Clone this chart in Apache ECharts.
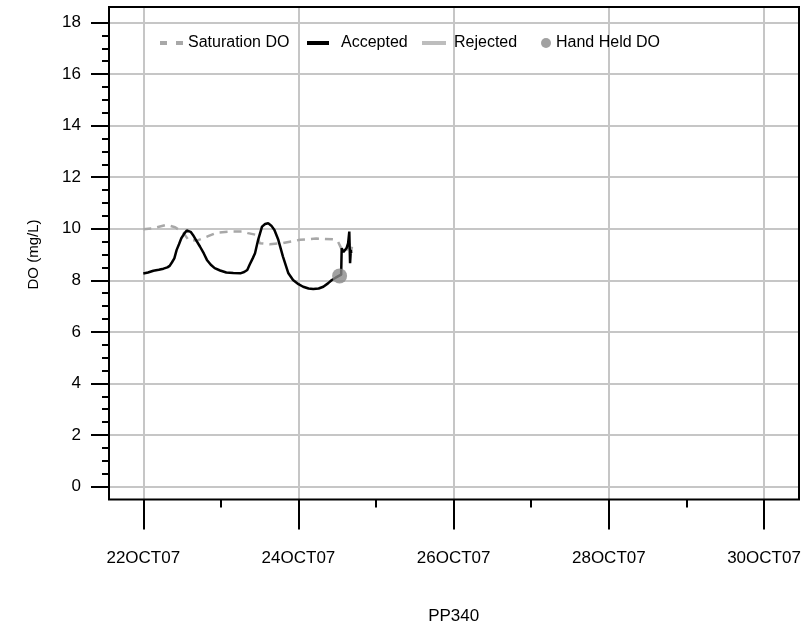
<!DOCTYPE html>
<html>
<head>
<meta charset="utf-8">
<script src="https://cdn.jsdelivr.net/npm/echarts@6/dist/echarts.min.js"></script>
<style>html,body{margin:0;padding:0;background:#fff}#c{width:806px;height:627px}</style>
</head>
<body>
<div id="c"></div>
<script>
// Day of October 2007 (fractional days)
const satDays = [22.00, 22.13, 22.30, 22.41, 22.52, 22.58, 22.69, 22.82, 22.95, 23.12, 23.29, 23.35, 23.46, 23.50, 23.63, 23.80, 24.02, 24.23, 24.45, 24.51, 24.56, 24.60, 24.64, 24.66, 24.675, 24.69];
const satVals = [9.98, 10.02, 10.15, 10.06, 9.83, 9.57, 9.54, 9.69, 9.85, 9.89, 9.89, 9.83, 9.76, 9.44, 9.40, 9.44, 9.57, 9.62, 9.59, 9.50, 9.18, 9.11, 9.25, 9.44, 9.11, 9.30];

const accDays = [22.00, 22.06, 22.13, 22.20, 22.26, 22.31, 22.34, 22.37, 22.40, 22.43, 22.46, 22.49, 22.53, 22.56, 22.58, 22.61, 22.64, 22.68, 22.73, 22.78, 22.82, 22.87, 22.92, 22.99, 23.07, 23.16, 23.25, 23.30, 23.34, 23.37, 23.41, 23.44, 23.48, 23.53, 23.57, 23.61, 23.65, 23.69, 23.74, 23.80, 23.87, 23.93, 24.00, 24.06, 24.13, 24.19, 24.26, 24.32, 24.38, 24.43, 24.48, 24.52, 24.55, 24.557, 24.58, 24.60, 24.62, 24.64, 24.655, 24.665, 24.675, 24.68];
const accVals = [8.26, 8.30, 8.37, 8.41, 8.45, 8.50, 8.56, 8.70, 8.85, 9.18, 9.40, 9.63, 9.82, 9.93, 9.95, 9.88, 9.76, 9.56, 9.31, 9.04, 8.79, 8.60, 8.47, 8.38, 8.30, 8.28, 8.27, 8.32, 8.40, 8.60, 8.85, 9.05, 9.57, 10.08, 10.18, 10.21, 10.12, 9.95, 9.57, 8.92, 8.27, 8.01, 7.85, 7.75, 7.68, 7.66, 7.68, 7.75, 7.88, 8.01, 8.10, 8.17, 8.22, 9.24, 9.10, 9.05, 9.25, 9.44, 9.89, 8.66, 9.18, 9.05];

const rejDays = [];
const rejVals = [];

const handDays = [24.53];
const handVals = [8.17];

const xTickDays = [22, 30, 2];   // first, last, step of labelled ticks
const yTickVals = [0, 18, 2];
const xLabelSuffix = 'OCT07';

const zip = (a, b) => a.map((v, i) => [v, b[i]]);

const FONT = '"Liberation Sans", Arial, sans-serif';
const GRIDC = '#c6c6c6';

// pixel geometry
const frame = { left: 109, right: 7, top: 7, bottom: 127.5 };
const xGrid = { left: 143.3, right: 42, top: 7, bottom: 127.5 };
const yGrid = { left: 109, right: 7, top: 22.5, bottom: 140.5 };
const pxPerUnit = (486.5 - 22.5) / 18;
const yMinHidden = -(499.5 - 486.5) / pxPerUnit;
const yMaxHidden = 18 + (22.5 - 7) / pxPerUnit;

const chart = echarts.init(document.getElementById('c'), null, { renderer: 'canvas' });

const TS = { fontFamily: FONT, fontSize: 16, color: '#000' };
const legendBase = { orient: 'horizontal', selectedMode: false, padding: 0 };
const gridBase = { outerBoundsMode: 'none', containLabel: false };

chart.setOption({
  animation: false,
  backgroundColor: '#fff',
  grid: [
    Object.assign({ show: true, borderColor: '#000', borderWidth: 2, backgroundColor: 'transparent', z: 5 }, gridBase, frame),
    Object.assign({ show: false }, gridBase, xGrid),
    Object.assign({ show: false }, gridBase, yGrid)
  ],
  xAxis: [
    { gridIndex: 0, type: 'value', show: false, min: 0, max: 1 },
    {
      gridIndex: 1, type: 'value', min: xTickDays[0], max: xTickDays[1], interval: xTickDays[2],
      axisLine: { show: false, onZero: false },
      axisTick: { show: true, inside: false, length: 30, lineStyle: { color: '#000', width: 2 } },
      minorTick: { show: true, splitNumber: 2, length: 8, lineStyle: { color: '#000', width: 2 } },
      splitLine: { show: true, lineStyle: { color: GRIDC, width: 2 } },
      axisLabel: { margin: 50, fontFamily: FONT, fontSize: 17, color: '#000',
        formatter: v => v + xLabelSuffix },
      name: 'PP340', nameLocation: 'middle', nameGap: 108,
      nameTextStyle: { fontFamily: FONT, fontSize: 17, color: '#000' }
    },
    { gridIndex: 2, type: 'value', show: false, min: 0, max: 1 }
  ],
  yAxis: [
    { gridIndex: 0, type: 'value', show: false, min: 0, max: 1 },
    { gridIndex: 1, type: 'value', show: false, min: yMinHidden, max: yMaxHidden },
    {
      gridIndex: 2, type: 'value', min: yTickVals[0], max: yTickVals[1], interval: yTickVals[2],
      axisLine: { show: false, onZero: false },
      axisTick: { show: true, inside: false, length: 18, lineStyle: { color: '#000', width: 2 } },
      minorTick: { show: true, splitNumber: 4, length: 7, lineStyle: { color: '#000', width: 2 } },
      splitLine: { show: true, lineStyle: { color: GRIDC, width: 2 } },
      axisLabel: { margin: 28, fontFamily: FONT, fontSize: 17, color: '#000' },
      name: 'DO (mg/L)', nameLocation: 'middle', nameGap: 68,
      nameTextStyle: { fontFamily: FONT, fontSize: 15, color: '#000' }
    }
  ],
  legend: [
    Object.assign({}, legendBase, { data: [{ name: 'Saturation DO', icon: 'path://M0,0H7V4H0Z M16,0H23V4H16Z' }],
      left: 160, top: 35, itemWidth: 23, itemHeight: 4, textStyle: TS }),
    Object.assign({}, legendBase, { data: [{ name: 'Accepted', icon: 'rect' }],
      left: 307, top: 35, itemWidth: 22, itemHeight: 4,
      textStyle: Object.assign({}, TS, { padding: [0, 0, 0, 7] }) }),
    Object.assign({}, legendBase, { data: [{ name: 'Rejected', icon: 'rect' }],
      left: 422, top: 35, itemWidth: 24, itemHeight: 4,
      textStyle: Object.assign({}, TS, { padding: [0, 0, 0, 3] }) }),
    Object.assign({}, legendBase, { data: [{ name: 'Hand Held DO', icon: 'circle' }],
      left: 541, top: 35, itemWidth: 10, itemHeight: 10, textStyle: TS })
  ],
  series: [
    { name: 'Saturation DO', type: 'line', xAxisIndex: 1, yAxisIndex: 1, data: zip(satDays, satVals),
      symbol: 'none', lineStyle: { color: '#a8a8a8', width: 2.5, type: [8, 6] }, itemStyle: { color: '#a8a8a8' }, z: 3 },
    { name: 'Accepted', type: 'line', xAxisIndex: 1, yAxisIndex: 1, data: zip(accDays, accVals),
      symbol: 'none', lineStyle: { color: '#000', width: 2.5 }, itemStyle: { color: '#000' }, z: 4 },
    { name: 'Rejected', type: 'line', xAxisIndex: 1, yAxisIndex: 1, data: zip(rejDays, rejVals),
      symbol: 'none', lineStyle: { color: '#bdbdbd', width: 2.5 }, itemStyle: { color: '#bdbdbd' }, z: 3 },
    { name: 'Hand Held DO', type: 'scatter', xAxisIndex: 1, yAxisIndex: 1, data: zip(handDays, handVals),
      symbol: 'circle', symbolSize: 15, itemStyle: { color: '#8a8a8a' }, z: 5 }
  ]
});
</script>
</body>
</html>
